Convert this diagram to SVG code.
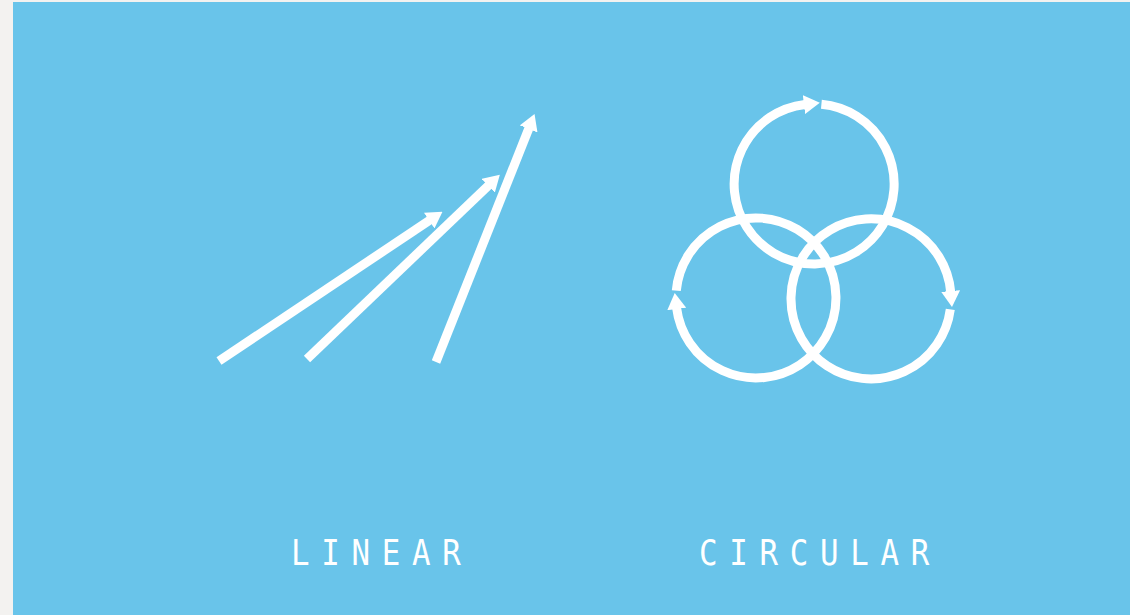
<svg xmlns="http://www.w3.org/2000/svg" width="1130" height="615" viewBox="0 0 1130 615">
<defs>
<style>
.ln{fill:none;stroke:#fff;stroke-width:9;stroke-linecap:butt}
.lbl{font-family:"DejaVu Sans Mono",monospace;font-size:35px;fill:#fff;letter-spacing:13.3px}
</style>
<marker id="ah" markerUnits="userSpaceOnUse" viewBox="0 0 16 19" refX="1" refY="9.5" markerWidth="16" markerHeight="19" orient="auto">
<path d="M0,0 L16,9.5 L0,19 Z" fill="#fff"/>
</marker>
</defs>
<rect width="1130" height="615" fill="#f3f2f0"/>
<rect x="13" y="2" width="1117" height="613" fill="#69c4ea"/>
<g id="connectors">
<line class="ln" x1="219" y1="361" x2="430" y2="220" marker-end="url(#ah)"/>
<line class="ln" x1="307" y1="359" x2="489" y2="185" marker-end="url(#ah)"/>
<line class="ln" x1="436" y1="362" x2="529" y2="128" marker-end="url(#ah)"/>
</g>
<g id="circle-top">
<path class="ln" d="M821.4,104.3 A80,80 0 1 1 804.94,104.5" marker-end="url(#ah)"/>
</g>
<g id="circle-right">
<path class="ln" d="M950.3,309.4 A80,80 0 1 1 950.7,292" marker-end="url(#ah)"/>
</g>
<g id="circle-left">
<path class="ln" d="M676.3,290.6 A80,80 0 1 1 676.6,308" marker-end="url(#ah)"/>
</g>
<g id="label-linear"><text class="lbl" transform="translate(291,565) scale(0.88,1)" x="0" y="0">LINEAR</text></g>
<g id="label-circular"><text class="lbl" transform="translate(699,565) scale(0.88,1)" x="0" y="0">CIRCULAR</text></g>
</svg>
